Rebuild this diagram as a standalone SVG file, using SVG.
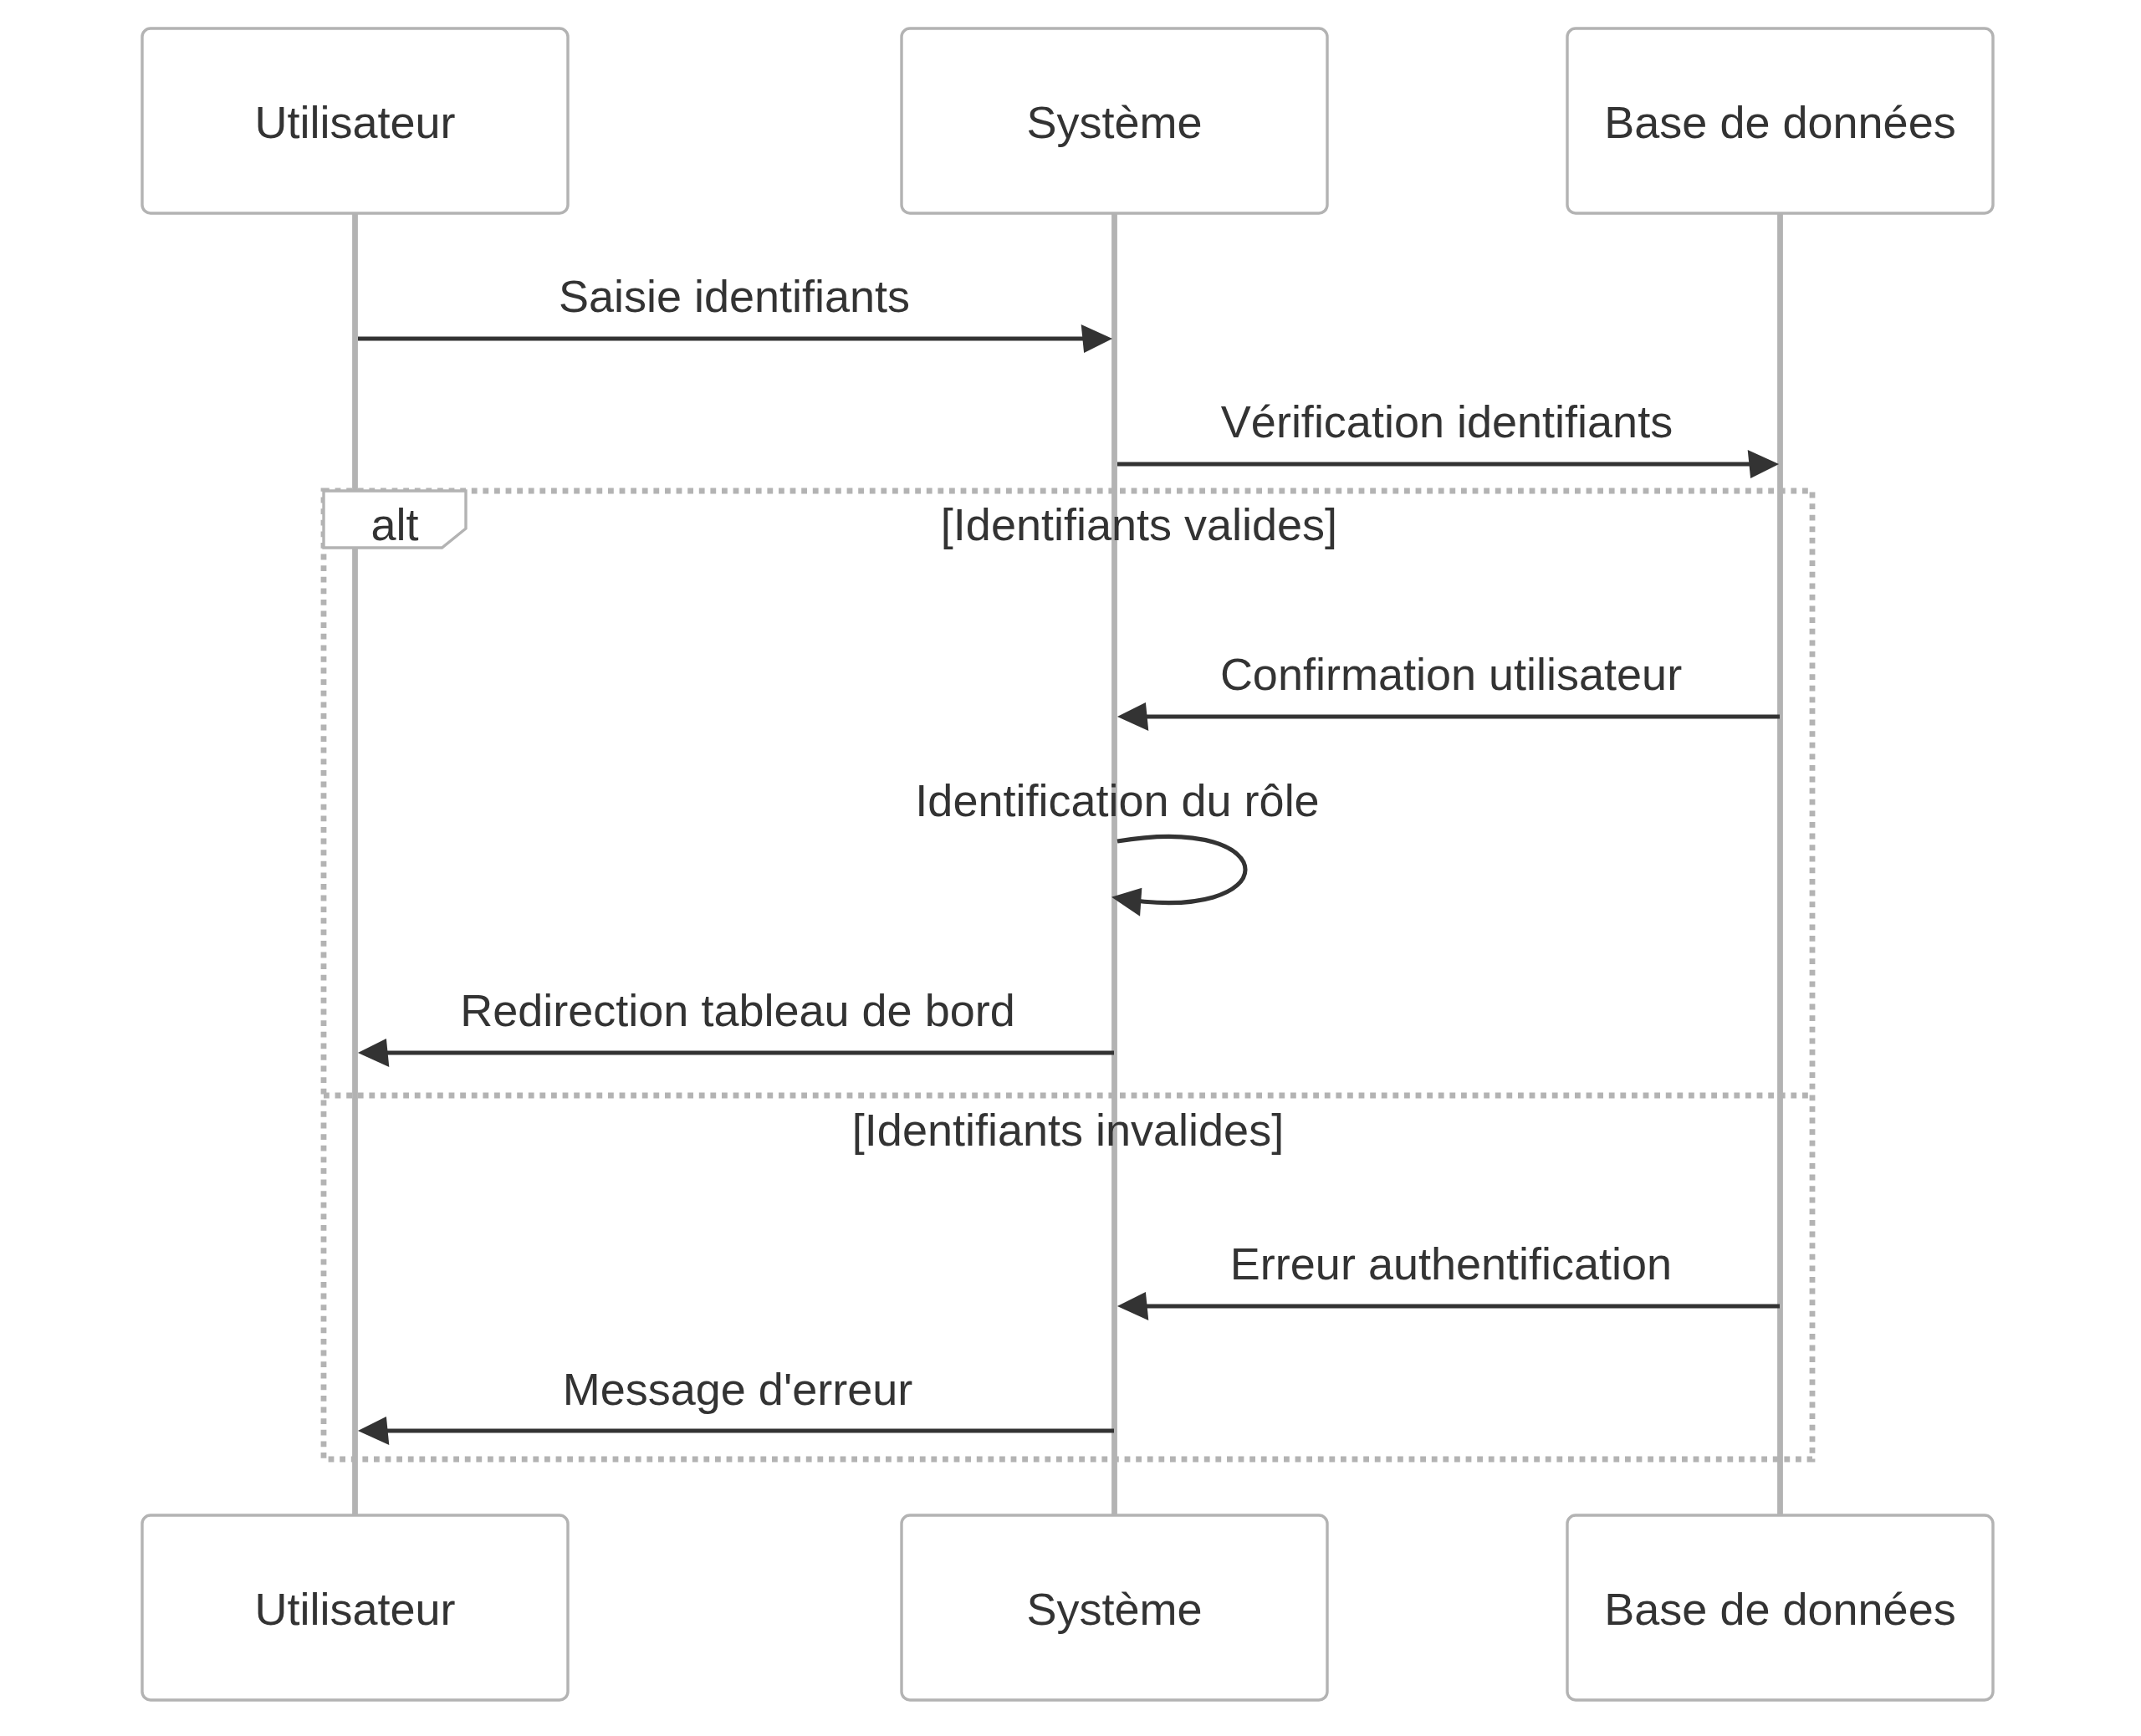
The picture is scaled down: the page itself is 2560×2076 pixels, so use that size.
<svg xmlns="http://www.w3.org/2000/svg" width="2560" height="2076" viewBox="0 0 2560 2076">
<defs>
<style>
text{font-family:"Liberation Sans",Arial,Helvetica,sans-serif;font-size:54px;fill:#333;text-anchor:middle}
.actor{fill:#fff;stroke:#b3b3b3;stroke-width:3.4}
.lifeline{stroke:#b3b3b3;stroke-width:6.8}
.msg{stroke:#333;stroke-width:5.1;fill:none}
.frame{fill:none;stroke:#b3b3b3;stroke-width:6.8;stroke-dasharray:6.8 6.8}
.labelbox{fill:#fff;stroke:#b3b3b3;stroke-width:3.4}
</style>
<marker id="arrowhead" markerUnits="userSpaceOnUse" markerWidth="41" markerHeight="41" refX="26.9" refY="17" orient="auto-start-reverse" overflow="visible">
<path d="M -3.4 0 L 34 17 L 0 34 z" fill="#333"/>
</marker>
</defs>
<rect width="2560" height="2076" fill="#fff"/>
<g id="lifelines">
<line class="lifeline" x1="424.5" y1="255" x2="424.5" y2="1812"/>
<line class="lifeline" x1="1332.5" y1="255" x2="1332.5" y2="1812"/>
<line class="lifeline" x1="2128.5" y1="255" x2="2128.5" y2="1812"/>
</g>
<g id="alt-frame">
<rect class="frame" x="387" y="587" width="1780" height="1158"/>
<line class="frame" x1="387" y1="1310" x2="2167" y2="1310"/>
<path class="labelbox" d="M387,587 L557,587 L557,632 L528.5,655 L387,655 Z"/>
<text x="472" y="646">alt</text>
<text x="1362" y="646">[Identifiants valides]</text>
<text x="1277" y="1370">[Identifiants invalides]</text>
</g>
<g id="actor-utilisateur-top">
<rect class="actor" x="170" y="34" width="509" height="221" rx="10"/>
<text x="424.5" y="165">Utilisateur</text>
</g>
<g id="actor-systeme-top">
<rect class="actor" x="1078" y="34" width="509" height="221" rx="10"/>
<text x="1332.5" y="165">Système</text>
</g>
<g id="actor-bdd-top">
<rect class="actor" x="1874" y="34" width="509" height="221" rx="10"/>
<text x="2128.5" y="165">Base de données</text>
</g>
<g id="actor-utilisateur-bottom">
<rect class="actor" x="170" y="1812" width="509" height="221" rx="10"/>
<text x="424.5" y="1943">Utilisateur</text>
</g>
<g id="actor-systeme-bottom">
<rect class="actor" x="1078" y="1812" width="509" height="221" rx="10"/>
<text x="1332.5" y="1943">Système</text>
</g>
<g id="actor-bdd-bottom">
<rect class="actor" x="1874" y="1812" width="509" height="221" rx="10"/>
<text x="2128.5" y="1943">Base de données</text>
</g>
<g id="connectors">
<text x="878" y="373">Saisie identifiants</text>
<line class="msg" x1="428" y1="405" x2="1323" y2="405" marker-end="url(#arrowhead)"/>
<text x="1730" y="523">Vérification identifiants</text>
<line class="msg" x1="1336" y1="555" x2="2120" y2="555" marker-end="url(#arrowhead)"/>
<text x="1735" y="825">Confirmation utilisateur</text>
<line class="msg" x1="2128" y1="857" x2="1343" y2="857" marker-end="url(#arrowhead)"/>
<text x="1336" y="976">Identification du rôle</text>
<path class="msg" d="M1336,1006 C1540,972 1540,1108 1336,1074" marker-end="url(#arrowhead)"/>
<text x="882" y="1227">Redirection tableau de bord</text>
<line class="msg" x1="1332" y1="1259" x2="435" y2="1259" marker-end="url(#arrowhead)"/>
<text x="1735" y="1530">Erreur authentification</text>
<line class="msg" x1="2128" y1="1562" x2="1343" y2="1562" marker-end="url(#arrowhead)"/>
<text x="882" y="1680">Message d'erreur</text>
<line class="msg" x1="1332" y1="1711" x2="435" y2="1711" marker-end="url(#arrowhead)"/>
</g>
</svg>
